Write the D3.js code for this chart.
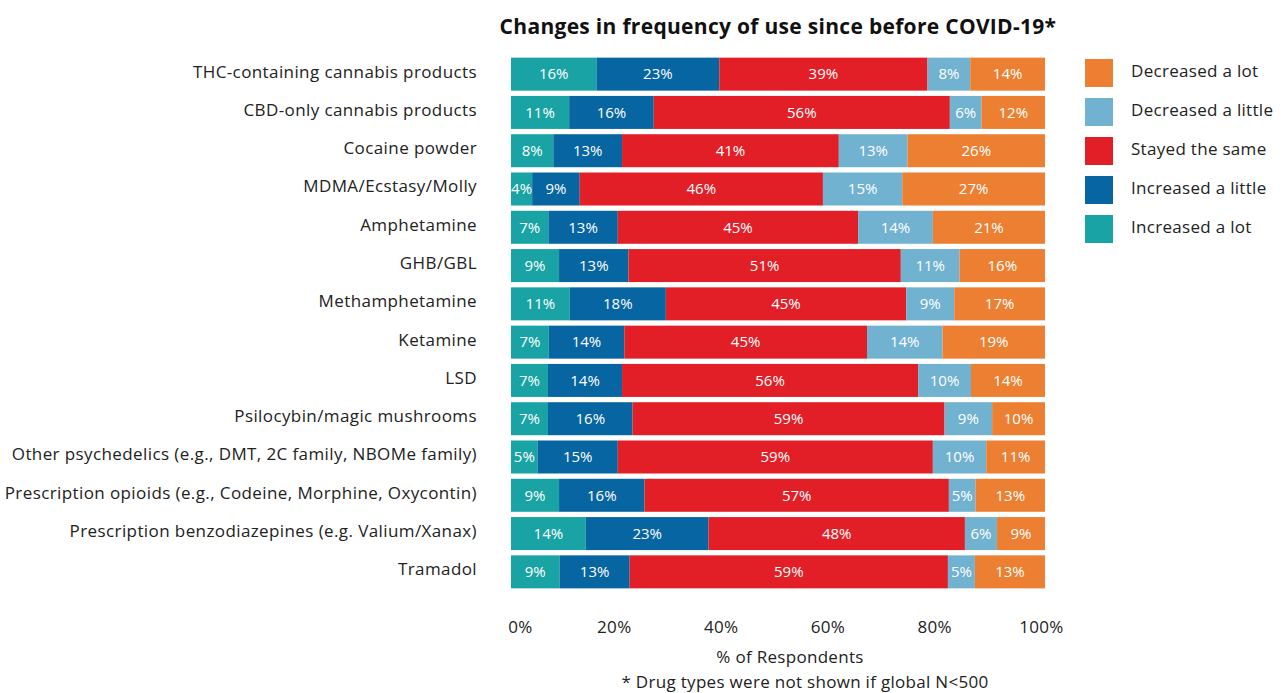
<!DOCTYPE html>
<html>
<head>
<meta charset="utf-8">
<script src="https://cdn.jsdelivr.net/npm/d3@7"></script>
<style>
  body { margin: 0; background: #fff; }
  svg text { font-family: "Open Sans", sans-serif; }
</style>
</head>
<body>
<svg id="chart"></svg>
<script>
// drug categories, top to bottom
const drugs = [
    "THC-containing cannabis products",
    "CBD-only cannabis products",
    "Cocaine powder",
    "MDMA/Ecstasy/Molly",
    "Amphetamine",
    "GHB/GBL",
    "Methamphetamine",
    "Ketamine",
    "LSD",
    "Psilocybin/magic mushrooms",
    "Other psychedelics (e.g., DMT, 2C family, NBOMe family)",
    "Prescription opioids (e.g., Codeine, Morphine, Oxycontin)",
    "Prescription benzodiazepines (e.g. Valium/Xanax)",
    "Tramadol"
];

// series values (%), in drug order
const increasedLot    = [16, 11,  8,  4,  7,  9, 11,  7,  7,  7,  5,  9, 14,  9];
const increasedLittle = [23, 16, 13,  9, 13, 13, 18, 14, 14, 16, 15, 16, 23, 13];
const stayedSame      = [39, 56, 41, 46, 45, 51, 45, 45, 56, 59, 59, 57, 48, 59];
const decreasedLittle = [ 8,  6, 13, 15, 14, 11,  9, 14, 10,  9, 10,  5,  6,  5];
const decreasedLot    = [14, 12, 26, 27, 21, 16, 17, 19, 14, 10, 11, 13,  9, 13];

const seriesNames = ["Increased a lot", "Increased a little", "Stayed the same", "Decreased a little", "Decreased a lot"];
const legendOrder = ["Decreased a lot", "Decreased a little", "Stayed the same", "Increased a little", "Increased a lot"];
const xTicks = [0, 0.2, 0.4, 0.6, 0.8, 1];

const colors = d3.scaleOrdinal()
    .domain(seriesNames)
    .range(["#19a3a4", "#0765a1", "#e21f27", "#71b2d1", "#ec7f31"]);

const width = 1288, height = 693;
const margin = { top: 55, bottom: 102, left: 511, right: 243 };

const svg = d3.select("#chart")
    .attr("width", width)
    .attr("height", height);

// build table for stacking
const table = drugs.map((d, i) => ({
    drug: d,
    "Increased a lot": increasedLot[i],
    "Increased a little": increasedLittle[i],
    "Stayed the same": stayedSame[i],
    "Decreased a little": decreasedLittle[i],
    "Decreased a lot": decreasedLot[i]
}));

const stack = d3.stack()
    .keys(seriesNames)
    .offset(d3.stackOffsetExpand);
const layers = stack(table);

const xScale = d3.scaleLinear()
    .domain([0, 1])
    .range([margin.left, width - margin.right]);

const yScale = d3.scaleBand()
    .domain(drugs)
    .range([margin.top, height - margin.bottom])
    .paddingInner(0.138)
    .paddingOuter(0.069);

// title
svg.append("text")
    .attr("x", 778)
    .attr("y", 34)
    .attr("text-anchor", "middle")
    .style("font-size", "21px")
    .style("font-weight", "700")
    .style("letter-spacing", "0.3px")
    .style("fill", "#111")
    .text("Changes in frequency of use since before COVID-19*");

// bars
const groups = svg.selectAll(".layer")
    .data(layers)
    .enter()
    .append("g")
    .attr("class", "layer")
    .attr("fill", d => colors(d.key));

groups.selectAll("rect")
    .data(d => d.map(v => ({ key: d.key, v: v })))
    .enter()
    .append("rect")
    .attr("x", d => xScale(d.v[0]))
    .attr("y", d => yScale(d.v.data.drug))
    .attr("width", d => xScale(d.v[1]) - xScale(d.v[0]))
    .attr("height", yScale.bandwidth());

groups.selectAll("text")
    .data(d => d.map(v => ({ key: d.key, v: v })))
    .enter()
    .append("text")
    .attr("x", d => (xScale(d.v[0]) + xScale(d.v[1])) / 2)
    .attr("y", d => yScale(d.v.data.drug) + yScale.bandwidth() / 2)
    .attr("dy", "0.35em")
    .attr("text-anchor", "middle")
    .style("font-size", "15px")
    .style("fill", "#fff")
    .text(d => d.v.data[d.key] + "%");

// category labels
const yAxis = d3.axisLeft(yScale).tickSize(0).tickPadding(34);
svg.append("g")
    .attr("class", "axis")
    .attr("transform", "translate(" + margin.left + ",-2)")
    .call(yAxis)
    .call(g => g.select(".domain").remove())
    .selectAll("text")
    .style("font-size", "17px")
    .style("letter-spacing", "0.4px")
    .style("fill", "#222");

// x axis
const xAxis = d3.axisBottom(xScale)
    .tickValues(xTicks)
    .tickFormat(d3.format(".0%"))
    .tickSize(0)
    .tickPadding(30);
svg.append("g")
    .attr("class", "axis")
    .attr("transform", "translate(0," + (height - margin.bottom) + ")")
    .call(xAxis)
    .call(g => g.select(".domain").remove())
    .selectAll("text")
    .style("font-size", "17px")
    .style("letter-spacing", "0.3px")
    .style("fill", "#222")
    .attr("dx", (d, i) => i == 0 ? 9 : -4);

svg.append("text")
    .attr("x", 790)
    .attr("y", 663)
    .attr("text-anchor", "middle")
    .style("font-size", "17px")
    .style("letter-spacing", "0.3px")
    .style("fill", "#222")
    .text("% of Respondents");

svg.append("text")
    .attr("x", 805)
    .attr("y", 688)
    .attr("text-anchor", "middle")
    .style("font-size", "17px")
    .style("letter-spacing", "0.3px")
    .style("fill", "#222")
    .text("* Drug types were not shown if global N<500");

// legend
const legend = svg.selectAll(".legend")
    .data(legendOrder)
    .enter()
    .append("g")
    .attr("class", "legend")
    .attr("transform", (d, i) => "translate(1085," + (59 + i * 39) + ")");

legend.append("rect")
    .attr("width", 28)
    .attr("height", 28)
    .attr("fill", d => colors(d));

legend.append("text")
    .attr("x", 46)
    .attr("y", 12)
    .attr("dy", "0.35em")
    .style("font-size", "17px")
    .style("letter-spacing", "0.3px")
    .style("fill", "#222")
    .text(d => d);
</script>
</body>
</html>
